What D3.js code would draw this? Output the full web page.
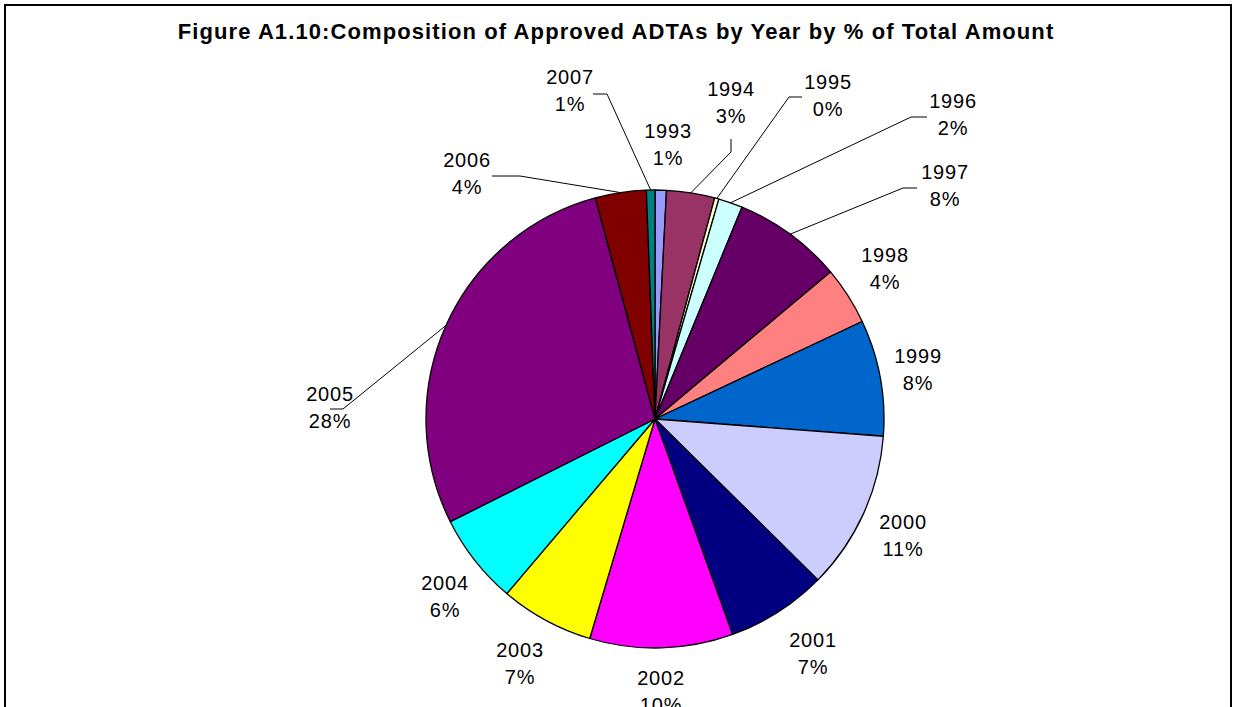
<!DOCTYPE html>
<html>
<head>
<meta charset="utf-8">
<title>Composition of Approved ADTAs</title>
<style>
body { margin: 0; background: #fff; }
svg { display: block; }
.title { font: bold 22px "Liberation Sans", Arial, sans-serif; letter-spacing: 1.1px; }
.lbl { font: 20px "Liberation Sans", Arial, sans-serif; fill: #000; letter-spacing: 0.8px; }
.leader { fill: none; stroke: #000; stroke-width: 1; }
</style>
</head>
<body>
<div id="vis"></div>
<script src="https://d3js.org/d3.v7.min.js"></script>
<script>
// data (share of total amount, %)
var years = ["1993","1994","1995","1996","1997","1998","1999","2000","2001","2002","2003","2004","2005","2006","2007"];
var shares = [0.8, 3.4, 0.3, 1.7, 7.7, 4.1, 8.2, 11.2, 7.1, 10.1, 6.6, 6.4, 28.2, 3.6, 0.6];
var colors = ["#9999FF","#993366","#FFFFCC","#CCFFFF","#660066","#FF8080","#0066CC","#CCCCFF",
              "#000080","#FF00FF","#FFFF00","#00FFFF","#800080","#800000","#008080"];
var title = "Figure A1.10:Composition of Approved ADTAs by Year by % of Total Amount";

// label placement (label centre, optional leader elbow + horizontal end)
var labelPos = {
  "1993": {x: 668, y: 131},
  "1994": {x: 731, y: 89,  leader: [[731, 152], [731, 139]]},
  "1995": {x: 828, y: 82,  leader: [[789, 97], [802, 97]]},
  "1996": {x: 953, y: 101, leader: [[911, 117], [927, 117]]},
  "1997": {x: 945, y: 172, leader: [[903, 188], [917, 188]]},
  "1998": {x: 885, y: 255},
  "1999": {x: 918, y: 356},
  "2000": {x: 903, y: 522},
  "2001": {x: 813, y: 640},
  "2002": {x: 661, y: 678},
  "2003": {x: 520, y: 650},
  "2004": {x: 445, y: 583},
  "2005": {x: 330, y: 394, leader: [[343, 409], [330, 409]]},
  "2006": {x: 467, y: 160, leader: [[520, 176], [492, 176]]},
  "2007": {x: 570, y: 77,  leader: [[607, 94], [593, 94]]}
};

var W = 1233, H = 707;
var cx = 655, cy = 419, radius = 229;

var svg = d3.select("#vis").append("svg")
    .attr("width", W)
    .attr("height", H);

// chart frame
svg.append("rect")
    .attr("x", 5).attr("y", 5)
    .attr("width", 1226).attr("height", 760)
    .attr("fill", "#fff")
    .attr("stroke", "#000")
    .attr("stroke-width", 2);

svg.append("text")
    .attr("class", "title")
    .attr("x", 616)
    .attr("y", 39)
    .attr("text-anchor", "middle")
    .text(title);

var data = years.map(function(y, i) { return {year: y, value: shares[i], color: colors[i]}; });
var total = d3.sum(shares);
var fmt = d3.format(".0%");

var pie = d3.pie()
    .sort(null)
    .value(function(d) { return d.value; });

var arc = d3.arc()
    .innerRadius(0)
    .outerRadius(radius);

var arcs = pie(data);

var g = svg.append("g")
    .attr("transform", "translate(" + cx + "," + cy + ")");

g.selectAll(".slice")
    .data(arcs)
    .enter()
    .append("path")
    .attr("class", "slice")
    .attr("d", arc)
    .attr("fill", function(d) { return d.data.color; })
    .attr("stroke", "#000")
    .attr("stroke-width", 1.3)
    .attr("stroke-linejoin", "round");

// leader lines
arcs.forEach(function(d) {
  var p = labelPos[d.data.year];
  if (!p.leader) return;
  var a = (d.startAngle + d.endAngle) / 2;
  var start = [cx + radius * Math.sin(a), cy - radius * Math.cos(a)];
  var pts = [start].concat(p.leader);
  svg.append("path")
      .attr("class", "leader")
      .attr("d", d3.line()(pts));
});

// labels
var labels = svg.selectAll(".lbl")
    .data(arcs)
    .enter()
    .append("text")
    .attr("class", "lbl")
    .attr("text-anchor", "middle");

labels.append("tspan")
    .attr("x", function(d) { return labelPos[d.data.year].x; })
    .attr("y", function(d) { return labelPos[d.data.year].y + 7; })
    .text(function(d) { return d.data.year; });

labels.append("tspan")
    .attr("x", function(d) { return labelPos[d.data.year].x; })
    .attr("y", function(d) { return labelPos[d.data.year].y + 34; })
    .text(function(d) { return fmt(d.data.value / total); });
</script>
</body>
</html>
